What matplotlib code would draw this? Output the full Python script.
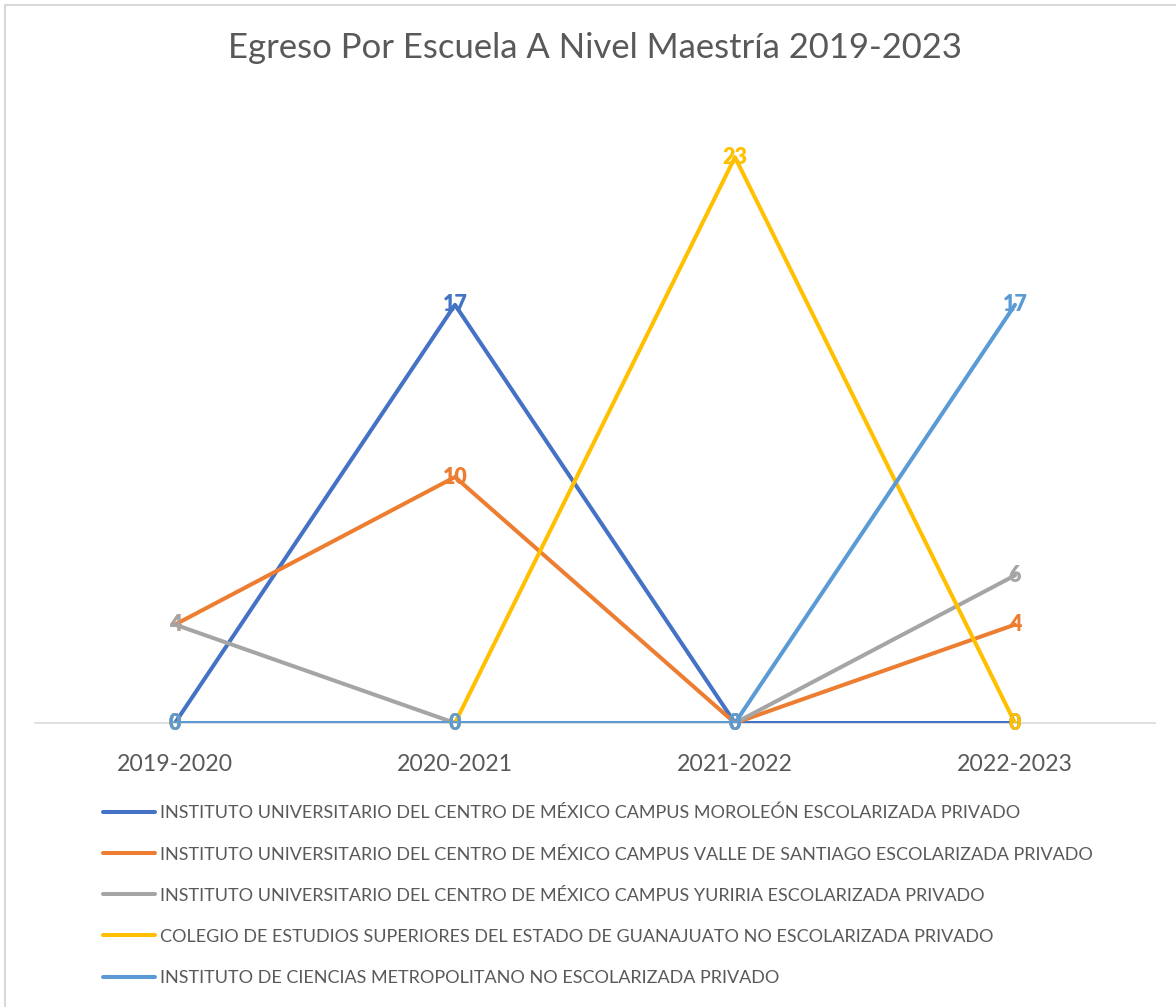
import matplotlib.pyplot as plt
from matplotlib.patches import Rectangle

plt.rcParams['font.family'] = ['Lato', 'DejaVu Sans']

periodos = ['2019-2020', '2020-2021', '2021-2022', '2022-2023']
escuelas = [
    'INSTITUTO UNIVERSITARIO DEL CENTRO DE MÉXICO CAMPUS MOROLEÓN ESCOLARIZADA PRIVADO',
    'INSTITUTO UNIVERSITARIO DEL CENTRO DE MÉXICO CAMPUS VALLE DE SANTIAGO ESCOLARIZADA PRIVADO',
    'INSTITUTO UNIVERSITARIO DEL CENTRO DE MÉXICO CAMPUS YURIRIA ESCOLARIZADA PRIVADO',
    'COLEGIO DE ESTUDIOS SUPERIORES DEL ESTADO DE GUANAJUATO NO ESCOLARIZADA PRIVADO',
    'INSTITUTO DE CIENCIAS METROPOLITANO NO ESCOLARIZADA PRIVADO',
]
moroleon = [0, 17, 0, 0]
valle = [4, 10, 0, 4]
yuriria = [4, 0, 0, 6]
colegio = [0, 0, 23, 0]
metropolitano = [0, 0, 0, 17]
series = [moroleon, valle, yuriria, colegio, metropolitano]
colores = ['#4472C4', '#ED7D31', '#A5A5A5', '#FFC000', '#5B9BD5']

fig = plt.figure(figsize=(11.76, 10.07), dpi=100)
ax = fig.add_axes([35/1176, 1-723/1007, 1120/1176, 615/1007])

x = list(range(len(periodos)))
handles = []
for vals, c in zip(series, colores):
    h, = ax.plot(x, vals, color=c, lw=2.9, solid_capstyle='round', zorder=2)
    handles.append(h)
for vals, c in zip(series, colores):
    for xi, v in zip(x, vals):
        ax.text(xi, v, str(v), color=c, fontsize=15.5, fontweight='heavy',
                ha='center', va='center', zorder=3)

ax.set_xlim(-0.5, 3.5)
ax.set_ylim(0, 25)
ax.set_yticks([])
ax.set_xticks(x)
ax.set_xticklabels(periodos, fontsize=16.7, color='#595959')
ax.tick_params(axis='x', length=0, pad=22)
for s in ['top', 'right', 'left']:
    ax.spines[s].set_visible(False)
ax.spines['bottom'].set_color('#D9D9D9')
ax.spines['bottom'].set_linewidth(1.2)
ax.spines['bottom'].set_zorder(1)

fig.text(595/1176, 1-48/1007, 'Egreso Por Escuela A Nivel Maestría 2019-2023',
         ha='center', va='center', fontsize=24.9, color='#595959')

fig.legend(handles, escuelas, loc='upper left', bbox_to_anchor=(103/1176, 1-805/1007),
           frameon=False, fontsize=13, labelcolor='#595959', handlelength=2.9,
           handletextpad=0.28, labelspacing=1.39, borderaxespad=0, borderpad=0)

fig.add_artist(Rectangle((5/1176, -0.01), 1.2, 1-5/1007+0.01, transform=fig.transFigure,
                         fill=False, edgecolor='#D9D9D9', lw=1.5))

fig.savefig('out.png', dpi=100)
